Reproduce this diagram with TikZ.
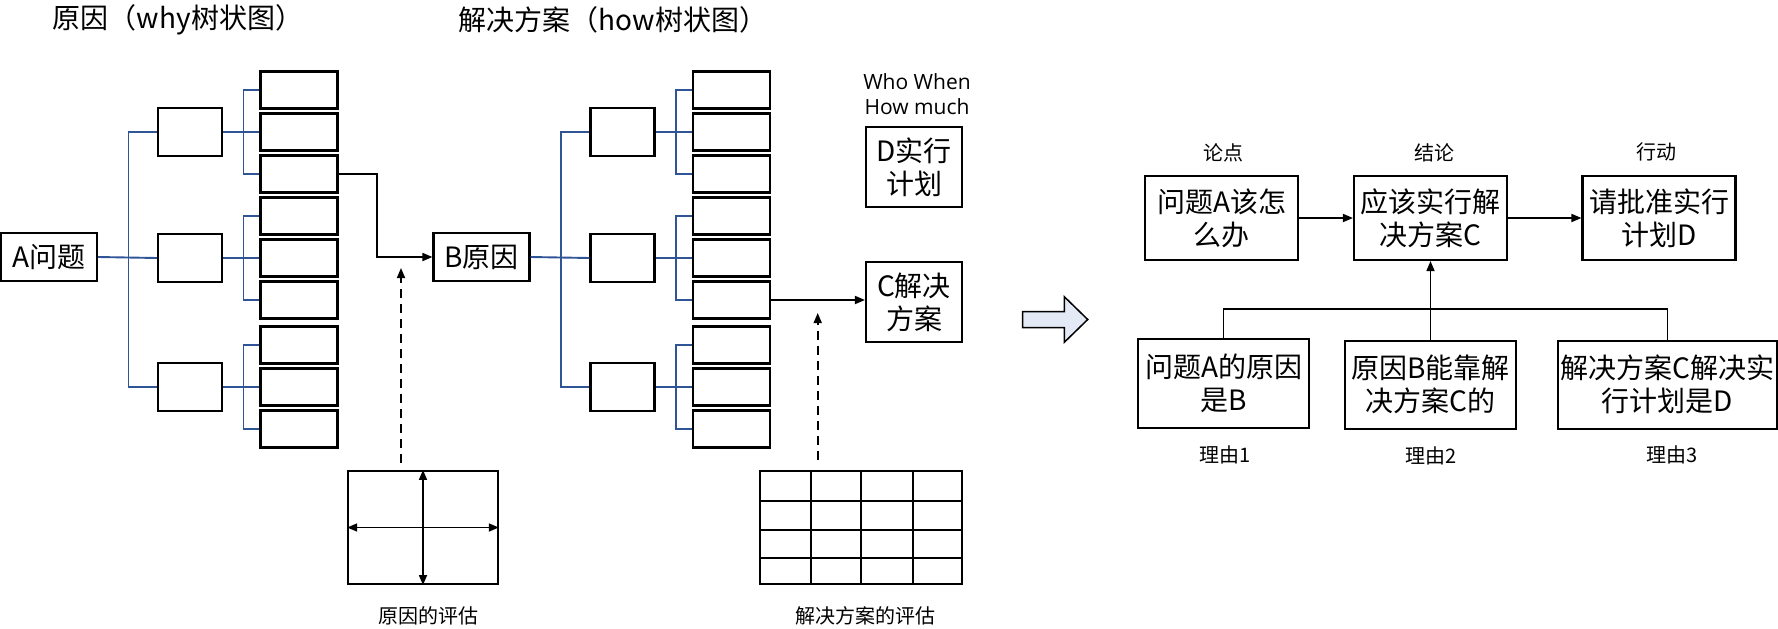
\documentclass[tikz,border=0pt]{standalone}
\usepackage{fontspec}
\usepackage{xcolor}
\usepackage{tikz}
\usetikzlibrary{arrows.meta}
\setmainfont{Noto Sans CJK SC}
\newfontfamily\latinfont{Open Sans}
\definecolor{treeblue}{RGB}{47,85,151}
\definecolor{arrowpale}{RGB}{227,234,245}

\tikzset{
  bigtext/.style={font=\fontsize{28}{33}\selectfont},
  smalltext/.style={font=\fontsize{20}{24}\selectfont},
  boxed/.style={draw,line width=2.1pt,inner sep=0pt,align=center},
  rootbox/.style={boxed,bigtext,minimum width=96,minimum height=48},
  midbox/.style={boxed,minimum width=64,minimum height=48},
  leafbox/.style={boxed,minimum width=77,minimum height=37},
  treeline/.style={treeblue,line width=1.9pt},
  link/.style={line width=1.7pt,-{Triangle[length=10pt,width=8pt]}},
  dashlink/.style={link,dash pattern=on 9pt off 6pt},
}

\begin{document}
\begin{tikzpicture}[x=1pt,y=-1pt]
    \useasboundingbox (0,0) rectangle (1778,629);

    % Titles
    \node[bigtext] (whytitle) at (178,20) {原因（why树状图）};
    \node[bigtext] (howtitle) at (613,20) {解决方案（how树状图）};

    % Roots of the two trees
    \node[rootbox] (aq) at (49,257) {A问题};
    \node[rootbox] (bq) at (481.5,257) {B原因};

    % Both trees: middle level and leaves
    \foreach \t/\dx/\r in {w/0/aq, h/432.5/bq} {
      \foreach \y [count=\i] in {132,258,387} {
        \node[midbox] (\t m\i) at (190+\dx,\y) {};
        \foreach \j in {1,2,3}
          \node[leafbox] (\t l\i\j) at (299+\dx,\y+42*\j-84) {};
        \draw[treeline] (\t m\i.east) -- (\t l\i2.west);
        \draw[treeline] (\t l\i1.west) -- ++(-16,0) |- (\t l\i3.west);
      }
      \draw[treeline] (\r.east) -- (\t m2.west);
      \draw[treeline] (\t m1.west) -- ++(-28.5,0) |- (\t m3.west);
    }

    % Why tree leads to the cause
    \draw[link] (wl13.east) -- ++(38.5,0) |- (bq.west);

    % Plan and solution
    \node[boxed,bigtext,minimum width=96,minimum height=80] (plan) at (914,167) {D实行\\计划};
    \node[boxed,bigtext,minimum width=96,minimum height=80] (sol) at (914,302) {C解决\\方案};
    \node[font=\latinfont\fontsize{21}{25}\selectfont,align=center] (who) at (917,94) {Who When\\How much};
    \draw[link] (hl23.east) -- (hl23.east -| sol.west);

    % Evaluation of causes
    \node[boxed,minimum width=149.5,minimum height=113] (evalw) at (423,527.5) {};
    \draw[line width=1.7pt,{Triangle[length=10pt,width=8pt]}-{Triangle[length=10pt,width=8pt]}] (evalw.west) -- (evalw.east);
    \draw[line width=1.7pt,{Triangle[length=10pt,width=8pt]}-{Triangle[length=10pt,width=8pt]}] (evalw.north) -- (evalw.south);
    \coordinate (upw) at (401,268);
    \draw[dashlink] ([yshift=7pt]evalw.north -| upw) -- (upw);
    \node[smalltext] (evalwlabel) at (428.6,616) {原因的评估};

    % Evaluation of solutions
    \node[boxed,minimum width=202.3,minimum height=113] (evalh) at (861.15,527.5) {};
    \foreach \x in {810.7,860.7,913.3}
      \draw[line width=2.1pt] (\x,471) -- (\x,584);
    \foreach \y in {501.3,530,557.7}
      \draw[line width=2.1pt] (760,\y) -- (962.3,\y);
    \coordinate (uph) at (817.7,313);
    \draw[dashlink] ([yshift=10pt]evalh.north -| uph) -- (uph);
    \node[smalltext] (evalhlabel) at (865.8,616) {解决方案的评估};

    % Block arrow
    \draw[line width=1.5pt,fill=arrowpale,line join=miter]
      (1022.7,311.7) -- (1064.3,311.7) -- (1064.3,296.7) -- (1087.7,319.5)
      -- (1064.3,342.3) -- (1064.3,327.7) -- (1022.7,327.7) -- cycle;

    % Argument, conclusion, action
    \node[boxed,bigtext,minimum width=153,minimum height=84] (lun) at (1221.6,218) {问题A该怎\\么办};
    \node[boxed,bigtext,minimum width=153,minimum height=84] (jie) at (1430.5,218) {应该实行解\\决方案C};
    \node[boxed,bigtext,minimum width=153,minimum height=84] (act) at (1659,218) {请批准实行\\计划D};
    \node[smalltext] (lunlabel) at (1223,153) {论点};
    \node[smalltext] (jielabel) at (1434,153) {结论};
    \node[smalltext] (actlabel) at (1656,152) {行动};
    \draw[link] (lun.east) -- (jie.west);
    \draw[link] (jie.east) -- (act.west);

    % Reasons
    \node[boxed,bigtext,minimum width=171,minimum height=89] (r1) at (1223.5,383.5) {问题A的原因\\是B};
    \node[boxed,bigtext,minimum width=171,minimum height=88] (r2) at (1430.5,384.7) {原因B能靠解\\决方案C的};
    \node[boxed,bigtext,minimum width=219,minimum height=88] (r3) at (1667.4,384.7) {解决方案C解决实\\行计划是D};
    \coordinate (bar) at (1430.5,309.3);
    \draw[line width=1.7pt] (r1.north) |- (bar) -| (r3.north);
    \draw[link] (r2.north) -- (jie.south);
    \node[smalltext] (r1label) at (1224.6,455) {理由1};
    \node[smalltext] (r2label) at (1430.8,456) {理由2};
    \node[smalltext] (r3label) at (1672.5,455) {理由3};
\end{tikzpicture}
\end{document}
